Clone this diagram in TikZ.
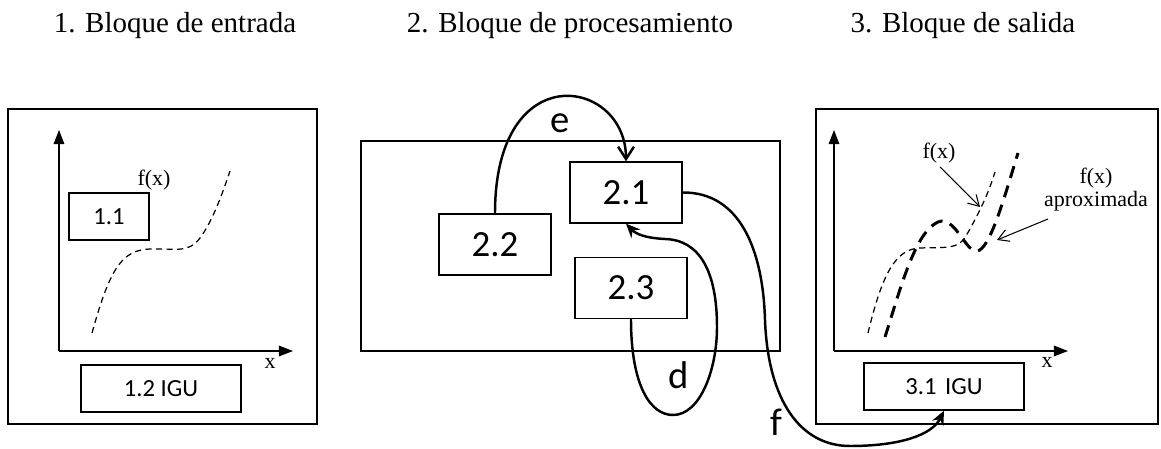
\documentclass[tikz,border=0pt]{standalone}
\usepackage{fontspec}
\setmainfont{Liberation Serif}
\newfontfamily\calib{Carlito}
\usetikzlibrary{arrows.meta}
\tikzset{
 panel/.style={draw, line width=0.8pt, inner sep=0pt},
 blk/.style={draw, line width=0.8pt, inner sep=0pt, minimum height=0.94cm, font=\calib\fontsize{14}{16}\selectfont},
 bigblk/.style={draw, line width=0.8pt, inner sep=0pt, minimum width=2.24cm, minimum height=1.22cm, font=\calib\fontsize{21}{24}\selectfont},
 title/.style={font=\fontsize{16.5}{19}\selectfont, anchor=base},
 lab/.style={font=\fontsize{12.5}{14}\selectfont, inner sep=1pt},
 letter/.style={font=\calib\fontsize{22}{24}\selectfont, inner sep=0pt},
 conn/.style={line width=1.4pt, -{Stealth[length=8pt,width=7pt]}},
 econn/.style={line width=1.4pt, -{Straight Barb[length=7pt,width=9pt]}},
 axis/.style={line width=0.8pt, -{Triangle[length=8pt,width=6pt]}},
 fine/.style={dash pattern=on 3.5pt off 2.5pt, line width=0.7pt},
 coarse/.style={dash pattern=on 7pt off 4.5pt, line width=1.7pt},
 pointer/.style={line width=0.6pt, -{Straight Barb[length=6pt,width=7pt]}},
}
\begin{document}
\begin{tikzpicture}[x=0.02cm, y=-0.02cm]
\useasboundingbox (0,0) rectangle (1161,449);

% titles
\node[title] (t1) at (175,33) {1. Bloque de entrada};
\node[title] (t2) at (570,33) {2. Bloque de procesamiento};
\node[title] (t3) at (963,33) {3. Bloque de salida};

% panel 1
\node[panel, minimum width=6.18cm, minimum height=6.3cm] (p1) at (162.5,266.5) {};
\coordinate (o1) at (59,351);
\coordinate (ya1) at (59,130);
\coordinate (xa1) at (293,351);
\draw[axis] (o1) -- (ya1);
\draw[axis] (o1) -- (xa1);
\node[lab] (xl1) at (270,363) {x};
\node[blk, minimum width=1.6cm] (b11) at (109,216.5) {1.1};
\node[lab] (fx1) at (154,180) {f(x)};
\node[blk, minimum width=3.2cm] (b12) at (161,388.5) {1.2 IGU};
\draw[fine] (92,333) .. controls (110,268) and (122,250) .. (150,249)
  .. controls (175,248) and (188,254) .. (200,238)
  .. controls (212,222) and (222,195) .. (230,171);

% panel 2
\node[panel, minimum width=8.38cm, minimum height=4.2cm] (p2) at (570.5,246) {};
\node[bigblk] (b21) at (626,192.5) {2.1};
\node[bigblk] (b22) at (495,244.5) {2.2};
\node[bigblk] (b23) at (631,288) {2.3};
\draw[econn] (b22.north) .. controls (495,55) and (626,78) .. (b21.north);
\node[letter] (le) at (560,123) {e};
\draw[conn] (b23.south) .. controls (631,385) and (650,415) .. (673,415)
  .. controls (700,415) and (717,370) .. (717,327)
  .. controls (717,272) and (700,240) .. (665,239)
  .. controls (645,238) and (636,234) .. (b21.south);
\node[letter] (ld) at (679,375) {d};

% panel 3
\node[panel, minimum width=6.84cm, minimum height=6.3cm] (p3) at (987,266.5) {};
\coordinate (o3) at (834,351);
\coordinate (ya3) at (834,130);
\coordinate (xa3) at (1068,351);
\draw[axis] (o3) -- (ya3);
\draw[axis] (o3) -- (xa3);
\node[lab] (xl3) at (1047,362) {x};
\node[blk, minimum width=3.2cm] (b31) at (944,386.5) {3.1\hspace{0.35em}IGU};
\draw[fine] (868,333) .. controls (882,275) and (895,249) .. (920,248)
  .. controls (945,247) and (958,250) .. (966,236)
  .. controls (978,215) and (988,195) .. (995,172);
\draw[coarse] (885,337) .. controls (900,290) and (915,232) .. (938,222)
  .. controls (955,215) and (965,252) .. (977,251)
  .. controls (990,250) and (1005,195) .. (1018,153);
\node[lab] (fx3) at (939,153) {f(x)};
\node[lab, align=center] (fa3) at (1096,190) {f(x)\\[-1pt]aproximada};
\coordinate (c1) at (980,207);
\coordinate (c2) at (997,240);
\coordinate (s1) at (940,167);
\coordinate (s2) at (1048,219);
\draw[pointer] (s1) -- (c1);
\draw[pointer] (s2) -- (c2);

% connector f
\draw[conn] (b21.east) .. controls (740,192) and (763,250) .. (765,320)
  .. controls (768,400) and (800,446) .. (850,446)
  .. controls (900,446) and (932,435) .. (b31.south);
\node[letter] (lf) at (776,422) {f};
\end{tikzpicture}
\end{document}
